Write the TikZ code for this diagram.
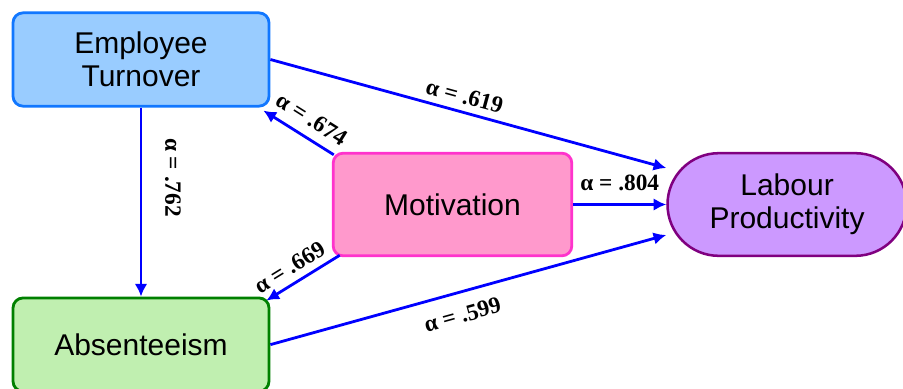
\documentclass[tikz,border=0pt]{standalone}
\usepackage{fontspec}
\setmainfont{Liberation Sans}
\newfontfamily\coeffont{Liberation Serif}
\usepackage{xcolor}
\usetikzlibrary{shapes.misc,arrows.meta,positioning,calc}

\definecolor{turnfill}{HTML}{99CCFF}
\definecolor{turndraw}{HTML}{1177FF}
\definecolor{absfill}{HTML}{C0EFB0}
\definecolor{absdraw}{HTML}{008000}
\definecolor{motfill}{HTML}{FF99CC}
\definecolor{motdraw}{HTML}{FF33CC}
\definecolor{prodfill}{HTML}{CC99FF}
\definecolor{proddraw}{HTML}{800080}
\definecolor{arrowblue}{HTML}{0000FF}

\begin{document}
\begin{tikzpicture}[
			x=0.75pt, y=-0.75pt,
			node distance=141.75pt and 69.75pt,
			block/.style={rectangle, draw, line width=2.1pt, rounded corners=7.5pt, minimum width=192pt, minimum height=70pt, align=center, font=\fontsize{22.5}{25}\selectfont},
			pill/.style={rounded rectangle, draw, line width=1.9pt, minimum width=186pt, minimum height=77pt, align=center, font=\fontsize{22.5}{25}\selectfont},
			line/.style={draw=arrowblue, -{Latex[length=9.5pt,width=9.5pt]}, line width=2.1pt},
			coef/.style={font=\coeffont\bfseries\fontsize{17.5}{20}\selectfont, text=black, inner sep=5pt}
			]
			\useasboundingbox (0,0) rectangle (903,389);
			% Nodes
			\node [block, fill=turnfill, draw=turndraw] (turn) at (141,59.5) {Employee\\Turnover};
			\node [block, fill=absfill, draw=absdraw, below=of turn] (absent) {Absenteeism};
			\node [block, fill=motfill, draw=motdraw, minimum width=179pt, minimum height=77pt] (motiv) at (452.5,204.5) {Motivation};
			\node [pill, fill=prodfill, draw=proddraw, right=of motiv] (prod) {Labour\\Productivity};
			
			% Connections
			\path [line] (turn.east) -- node[coef, above, sloped, pos=.48] {α = .619} ($(prod.west)+(0,-36.5)$);
			\path [line] ($(motiv.north west)+(2,3)$) -- node[coef, above=2pt, sloped, pos=.45] {α = .674} ($(turn.south east)+(-7,3)$);
			\path [line] (turn.south) -- node[coef, pos=.37, xshift=12pt, anchor=south, rotate=-90] {α = .762} (absent.north);
			\path [line] (motiv.east) -- node[coef, above=4pt] {α = .804} (prod.west);
			\path [line] ($(motiv.south west)+(8,-2)$) -- node[coef, above, sloped, pos=.57] {α = .669} ($(absent.north east)+(-4,4)$);
			\path [line] (absent.east) -- node[coef, below=5pt, sloped, pos=.47] {α = .599} ($(prod.west)+(0,30.5)$);
		\end{tikzpicture}
\end{document}
